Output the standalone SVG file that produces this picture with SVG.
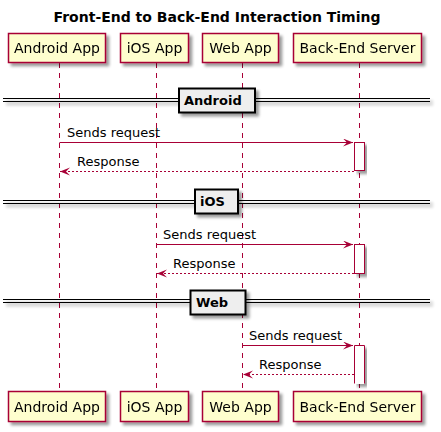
<svg xmlns="http://www.w3.org/2000/svg" width="441" height="432" viewBox="0 0 441 432">
<defs>
<filter id="sh" x="-10%" y="-10%" width="130%" height="140%">
<feGaussianBlur in="SourceAlpha" stdDeviation="1.5"/>
<feOffset dx="3" dy="3" result="b"/>
<feComponentTransfer><feFuncA type="linear" slope="0.4"/></feComponentTransfer>
<feMerge><feMergeNode/><feMergeNode in="SourceGraphic"/></feMerge>
</filter>
<marker id="ah" markerWidth="11" markerHeight="9" refX="10" refY="4" orient="auto" markerUnits="userSpaceOnUse">
<polygon points="0,0 10,4 0,8 4,4" fill="#A80036"/>
</marker>
</defs>
<style>
.t{font-family:"DejaVu Sans",sans-serif;}
.title{font-size:14px;font-weight:bold;}
.p rect{fill:#FEFECE;stroke:#A80036;stroke-width:1.5;}
.p text{font-size:14px;fill:#000;}
.life{stroke:#A80036;stroke-width:1;stroke-dasharray:5,5;}
.msg{stroke:#A80036;stroke-width:1;fill:none;}
.ret{stroke-dasharray:2,2;}
.lbl{font-size:13px;fill:#000;}
.act{fill:#FFFFFF;stroke:#A80036;stroke-width:1;}
.dl{stroke:#000;stroke-width:1;}
.db{fill:#EEEEEE;stroke:#000;stroke-width:2;}
.dt{font-size:13px;font-weight:bold;}
</style>
<rect width="441" height="432" fill="#FFFFFF"/>
<text class="t title" x="217" y="22" text-anchor="middle">Front-End to Back-End Interaction Timing</text>

<g id="lifelines">
<line class="life" x1="59.5" y1="63" x2="59.5" y2="391"/>
<line class="life" x1="156.5" y1="63" x2="156.5" y2="391"/>
<line class="life" x1="242.5" y1="63" x2="242.5" y2="391"/>
<line class="life" x1="359.5" y1="63" x2="359.5" y2="391"/>
</g>

<g id="participant-android" class="p t" filter="url(#sh)">
<rect x="8.5" y="33.5" width="97" height="29"/>
<text x="57" y="53" text-anchor="middle">Android App</text>
<rect x="8.5" y="391.5" width="97" height="30"/>
<text x="57" y="412" text-anchor="middle">Android App</text>
</g>
<g id="participant-ios" class="p t" filter="url(#sh)">
<rect x="120.5" y="33.5" width="68" height="29"/>
<text x="154.5" y="53" text-anchor="middle">iOS App</text>
<rect x="120.5" y="391.5" width="68" height="30"/>
<text x="154.5" y="412" text-anchor="middle">iOS App</text>
</g>
<g id="participant-web" class="p t" filter="url(#sh)">
<rect x="202.5" y="33.5" width="76" height="29"/>
<text x="240.5" y="53" text-anchor="middle">Web App</text>
<rect x="202.5" y="391.5" width="76" height="30"/>
<text x="240.5" y="412" text-anchor="middle">Web App</text>
</g>
<g id="participant-server" class="p t" filter="url(#sh)">
<rect x="293.5" y="33.5" width="128" height="29"/>
<text x="357.5" y="53" text-anchor="middle">Back-End Server</text>
<rect x="293.5" y="391.5" width="128" height="30"/>
<text x="357.5" y="412" text-anchor="middle">Back-End Server</text>
</g>

<g id="divider-android" class="t">
<g filter="url(#sh)">
<line class="dl" x1="3" y1="98.5" x2="430" y2="98.5"/>
<line class="dl" x1="3" y1="101.5" x2="430" y2="101.5"/>
<rect class="db" x="179" y="88.5" width="76" height="24"/>
</g>
<text class="dt" x="184" y="105">Android</text>
</g>
<g id="divider-ios" class="t">
<g filter="url(#sh)">
<line class="dl" x1="3" y1="200.5" x2="430" y2="200.5"/>
<line class="dl" x1="3" y1="203.5" x2="430" y2="203.5"/>
<rect class="db" x="195" y="189.5" width="43" height="24"/>
</g>
<text class="dt" x="200" y="206">iOS</text>
</g>
<g id="divider-web" class="t">
<g filter="url(#sh)">
<line class="dl" x1="3" y1="299.5" x2="430" y2="299.5"/>
<line class="dl" x1="3" y1="302.5" x2="430" y2="302.5"/>
<rect class="db" x="190.5" y="290.5" width="55" height="24"/>
</g>
<text class="dt" x="196" y="307">Web</text>
</g>

<g id="activations" filter="url(#sh)">
<rect class="act" x="354.5" y="142.5" width="10" height="28"/>
<rect class="act" x="354.5" y="244.5" width="10" height="29"/>
<path d="M354.5,383.5 V345.5 H364.5 V383.5" class="act"/>
<rect x="355" y="346" width="9" height="38" fill="#FFFFFF"/>
</g>

<g id="connectors" class="t">
<line class="msg" x1="59.5" y1="142.5" x2="353" y2="142.5" marker-end="url(#ah)"/>
<text class="lbl" x="67" y="137">Sends request</text>
<line class="msg ret" x1="354" y1="171.5" x2="60" y2="171.5" marker-end="url(#ah)"/>
<text class="lbl" x="77" y="166">Response</text>

<line class="msg" x1="156.5" y1="244.5" x2="353" y2="244.5" marker-end="url(#ah)"/>
<text class="lbl" x="163" y="239">Sends request</text>
<line class="msg ret" x1="354" y1="273.5" x2="157" y2="273.5" marker-end="url(#ah)"/>
<text class="lbl" x="173" y="268">Response</text>

<line class="msg" x1="242.5" y1="345.5" x2="353" y2="345.5" marker-end="url(#ah)"/>
<text class="lbl" x="249" y="340">Sends request</text>
<line class="msg ret" x1="354" y1="374.5" x2="243" y2="374.5" marker-end="url(#ah)"/>
<text class="lbl" x="259" y="369">Response</text>
</g>
</svg>
